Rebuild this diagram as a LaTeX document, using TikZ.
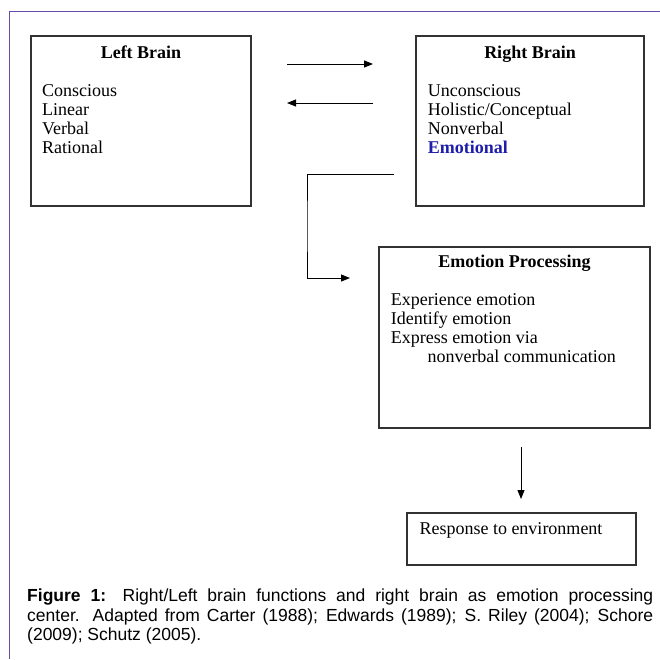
\documentclass[tikz,border=0pt]{standalone}
\usepackage{fontspec}
\setmainfont{Liberation Serif}
\newfontfamily\capfont{Liberation Sans}
\usetikzlibrary{arrows.meta}
\definecolor{framepurple}{RGB}{104,76,168}
\definecolor{boxgray}{RGB}{50,50,50}
\definecolor{emoblue}{RGB}{30,30,170}

\begin{document}
\begin{tikzpicture}
[
x=1pt,y=-1pt,
brainbox/.style 2 args={draw=boxgray,line width=1.3pt,minimum width=#1,minimum height=#2,inner sep=0pt},
boxtitle/.style={anchor=base,inner sep=0pt,font=\fontsize{18}{19}\selectfont\bfseries},
boxlist/.style={anchor=north west,inner sep=0pt,align=left,font=\fontsize{18}{19}\selectfont},
flow/.style={line width=0.9pt,-{Triangle[length=9pt,width=7pt]}},
]
\useasboundingbox (0,0) rectangle (660,659);
\draw[framepurple,line width=1pt] (9,659) -- (9,11) -- (660,11);

%Place the nodes
\node[brainbox={220pt}{170pt}] (left) at (141,121) {};
\node[brainbox={228pt}{170pt}] (right) at (530,121) {};
\node[brainbox={271pt}{181pt}] (emo) at (514.5,337.5) {};
\node[brainbox={229pt}{52pt}] (resp) at (521.5,539) {};

\node[boxtitle] (lefttitle) at (141,58.3) {Left Brain};
\node[boxtitle] (righttitle) at (530,58.3) {Right Brain};
\node[boxtitle] (emotitle) at (514.5,267.3) {Emotion Processing};

\node[boxlist] (leftlist) at (42,84.2) {Conscious\\Linear\\Verbal\\Rational};
\node[boxlist] (rightlist) at (427.7,84.2) {Unconscious\\Holistic/Conceptual\\Nonverbal\\\textcolor{emoblue}{\bfseries Emotional}};
\node[boxlist] (emolist) at (390.7,293) {Experience emotion\\Identify emotion\\Express emotion via\\\hspace*{36.6pt}nonverbal communication};
\node[boxlist] (resptext) at (419.3,522) {Response to environment};

\node[anchor=north west,inner sep=0pt,text width=626pt,align=justify,
      font=\capfont\fontsize{17.5}{19.7}\selectfont] (caption) at (27,588.5)
  {\textbf{Figure 1:} Right/Left brain functions and right brain as emotion processing\linebreak
   center. Adapted from Carter (1988); Edwards (1989); S. Riley (2004); Schore\linebreak
   (2009); Schutz (2005).};

\coordinate (toright0) at (287,64);
\coordinate (toright1) at (373,64);
\coordinate (toleft0) at (373,103);
\coordinate (toleft1) at (287,103);
\coordinate (elbow0) at (394,174);
\coordinate (elbow1) at (350,278);
\coordinate (down0) at (521,447);
\coordinate (down1) at (521,499);

%Draw the connections
\draw[flow] (toright0) -- (toright1);
\draw[flow] (toleft0) -- (toleft1);
\draw[flow] (elbow0) -| (307,226) |- (elbow1);
\draw[flow] (down0) -- (down1);
\end{tikzpicture}
\end{document}
